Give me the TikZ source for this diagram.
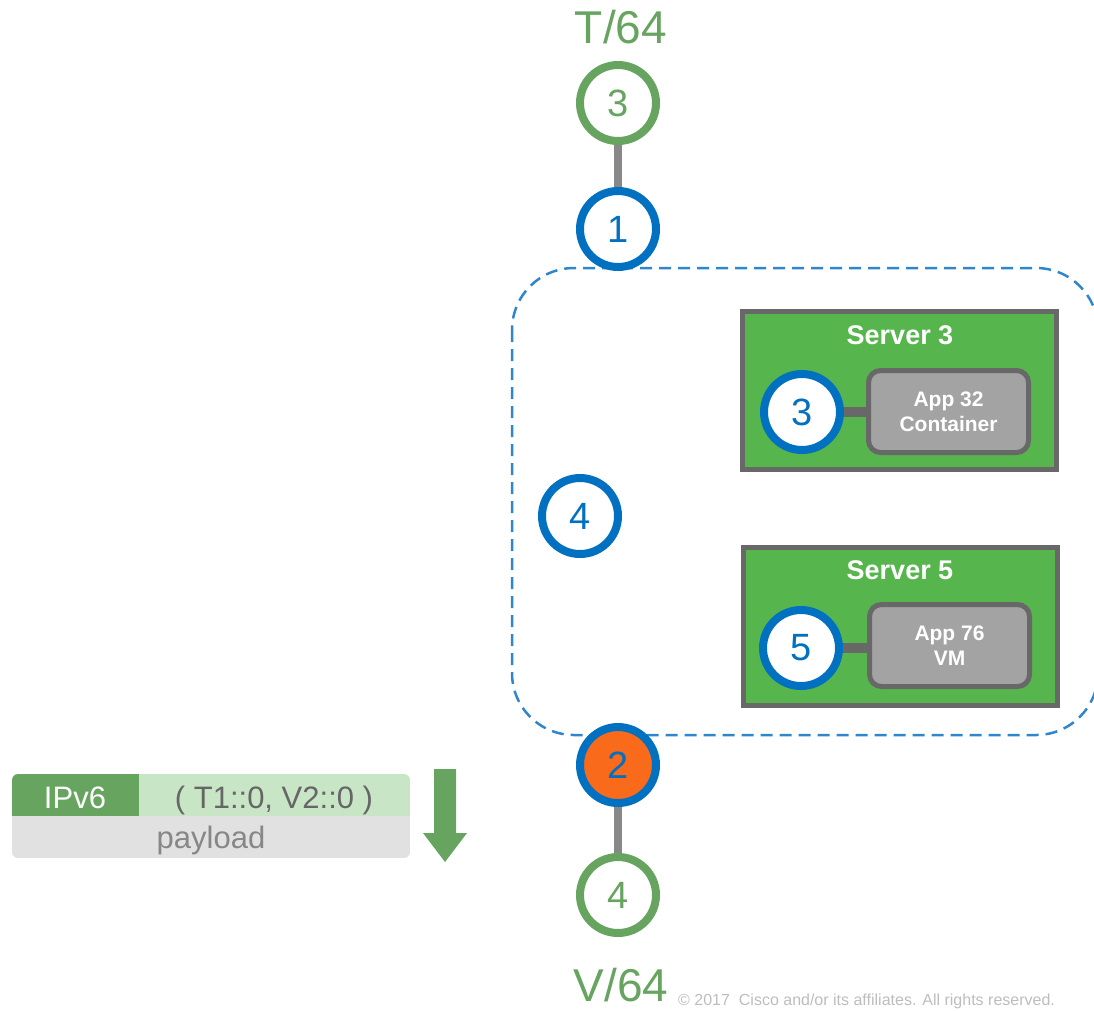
\documentclass[tikz,border=0pt]{standalone}
\usepackage{fontspec}
\setmainfont{Liberation Sans}
\definecolor{cgreen}{HTML}{66A460}
\definecolor{cblue}{HTML}{0070C0}
\definecolor{cdash}{HTML}{2F86CC}
\definecolor{corange}{HTML}{F96A1B}
\definecolor{srvfill}{HTML}{57B54E}
\definecolor{srvline}{HTML}{686868}
\definecolor{appfill}{HTML}{A3A3A3}
\definecolor{connc}{HTML}{888888}
\definecolor{pktdark}{HTML}{66A460}
\definecolor{pktlight}{HTML}{C8E6C5}
\definecolor{pktgray}{HTML}{E1E1E1}
\definecolor{copyc}{HTML}{BDBDBD}
\begin{document}
\begin{tikzpicture}[x=1pt,y=-1pt,
  ring/.style={circle,draw,line width=8pt,minimum size=76pt,inner sep=0pt,fill=white,font=\fontsize{38}{40}\selectfont},
  gring/.style={ring,draw=cgreen,text=cgreen},
  bring/.style={ring,draw=cblue,text=cblue},
  conn/.style={draw=connc,line width=8pt},
  appconn/.style={draw=srvline,line width=10pt},
  server/.style={rectangle,draw=srvline,fill=srvfill,line width=5pt,minimum width=314pt,minimum height=158pt,inner sep=0pt},
  srvlabel/.style={text=white,font=\fontsize{27}{30}\selectfont\bfseries},
  app/.style={rectangle,rounded corners=12pt,draw=srvline,fill=appfill,line width=5pt,minimum width=160pt,minimum height=82pt,inner sep=0pt,text=white,align=center,font=\fontsize{21}{25}\selectfont\bfseries},
  biglabel/.style={text=cgreen,font=\fontsize{46}{50}\selectfont,anchor=base,inner sep=0pt},
  pkttext/.style={font=\fontsize{31}{34}\selectfont,inner sep=0pt,anchor=base}
]
\useasboundingbox (0,0) rectangle (1094,1010);
\clip (0,0) rectangle (1094,1010);

% dashed region
\draw[cdash,line width=2.5pt,dash pattern=on 12pt off 7pt,rounded corners=62pt] (512,268) rectangle (1098,735);

% servers
\node[server] (srv3) at (899.5,390.5) {};
\node[srvlabel] (srv3l) at (900,335) {Server 3};
\node[app] (app32) at (948.5,411.5) {App 32\\Container};
\node[bring] (s3) at (802,412) {3};
\draw[appconn] (s3.east) -- (s3.east -| app32.west);

\node[server] (srv5) at (900,626) {};
\node[srvlabel] (srv5l) at (900,570) {Server 5};
\node[app] (app76) at (949.5,645.5) {App 76\\VM};
\node[bring] (s5) at (801,648) {5};
\draw[appconn] (s5.east) -- (s5.east -| app76.west);

% vertical chain
\node[biglabel] (tlab) at (621,43) {T/64};
\node[gring] (g3) at (618,103) {3};
\node[bring] (b1) at (618,229) {1};
\draw[conn] (g3) -- (b1);

\node[bring] (b4) at (580,516) {4};

\node[gring] (g4) at (618,895) {4};
\node[bring,fill=corange] (o2) at (618,765) {2};
\draw[conn] (o2) -- (g4);
\node[biglabel] (vlab) at (621,1001) {V/64};

% packet
\begin{scope}
  \clip[rounded corners=6pt] (12,774) rectangle (410,858);
  \fill[pktlight] (138,774) rectangle (410,816);
  \fill[pktdark] (12,774) rectangle (139,816);
  \fill[pktgray] (12,816) rectangle (410,858);
\end{scope}
\node[pkttext,text=white] (ipv6) at (75,808) {IPv6};
\node[pkttext,text=black!60] (addr) at (274,808) {( T1::0, V2::0 )};
\node[pkttext,text=black!47] (payload) at (211,848) {payload};

% arrow
\fill[pktdark] (434,769) -- (456,769) -- (456,833) -- (467,833) -- (445,862) -- (423,833) -- (434,833) -- cycle;

% copyright
\node[anchor=base west,inner sep=0pt,text=copyc,font=\fontsize{16}{18}\selectfont] (copy) at (678,1005) {\textcopyright\ 2017\ \ Cisco and/or its affiliates. All rights reserved.};
\end{tikzpicture}
\end{document}
